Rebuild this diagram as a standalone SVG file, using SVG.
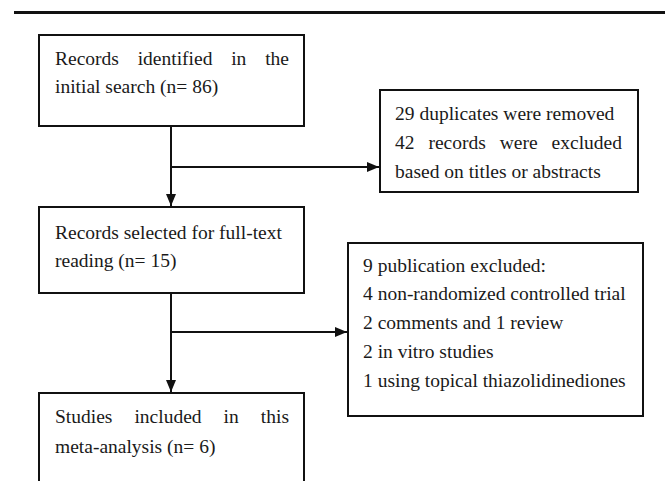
<svg xmlns="http://www.w3.org/2000/svg" width="665" height="481" viewBox="0 0 665 481">
<style>
.box{fill:#fff;stroke:#111;stroke-width:2}
.t{font-family:"Liberation Serif","Times New Roman",serif;font-size:19.5px;fill:#1a1a1a}
.e{text-anchor:end}
.c{stroke:#111;stroke-width:2;fill:none}
</style>
<defs>
<marker id="ah" markerWidth="12" markerHeight="10" refX="12" refY="5" orient="auto" markerUnits="userSpaceOnUse">
<path d="M0,0 L12,5 L0,10 Z" fill="#111"/>
</marker>
</defs>
<rect width="665" height="481" fill="#fff"/>
<line x1="14" y1="12.5" x2="665" y2="12.5" stroke="#111" stroke-width="3"/>
<g id="n1">
<rect class="box" x="39" y="35" width="265" height="91"/>
<text class="t" y="65"><tspan x="55">Records</tspan><tspan x="137.7">identified</tspan><tspan x="231.2">in</tspan></text>
<text class="t e" x="289" y="65">the</text>
<text class="t" x="55" y="93">initial search (n= 86)</text>
</g>
<g id="n2">
<rect class="box" x="380" y="90" width="258" height="102"/>
<text class="t" x="395" y="120">29 duplicates were removed</text>
<text class="t" y="149"><tspan x="395">42</tspan><tspan x="428.4">records</tspan><tspan x="499.7">were</tspan></text>
<text class="t e" x="622" y="149">excluded</text>
<text class="t" x="395" y="178">based on titles or abstracts</text>
</g>
<g id="n3">
<rect class="box" x="39" y="207" width="265" height="86"/>
<text class="t" x="55" y="239">Records selected for full-text</text>
<text class="t" x="55" y="267">reading (n= 15)</text>
</g>
<g id="n4">
<rect class="box" x="348" y="243" width="295" height="173"/>
<text class="t" x="363" y="272">9 publication excluded:</text>
<text class="t" x="363" y="300">4 non-randomized controlled trial</text>
<text class="t" x="363" y="329">2 comments and 1 review</text>
<text class="t" x="363" y="358">2 in vitro studies</text>
<text class="t" x="363" y="387">1 using topical thiazolidinediones</text>
</g>
<g id="n5">
<rect class="box" x="39" y="393" width="265" height="100"/>
<text class="t" y="423"><tspan x="55">Studies</tspan><tspan x="134.4">included</tspan><tspan x="223.6">in</tspan></text>
<text class="t e" x="289" y="423">this</text>
<text class="t" x="55" y="453">meta-analysis (n= 6)</text>
</g>
<g id="connectors">
<line class="c" x1="171" y1="126" x2="171" y2="206" marker-end="url(#ah)"/>
<line class="c" x1="171" y1="167" x2="379" y2="167" marker-end="url(#ah)"/>
<line class="c" x1="171" y1="293" x2="171" y2="392" marker-end="url(#ah)"/>
<line class="c" x1="171" y1="332" x2="347" y2="332" marker-end="url(#ah)"/>
</g>
</svg>
